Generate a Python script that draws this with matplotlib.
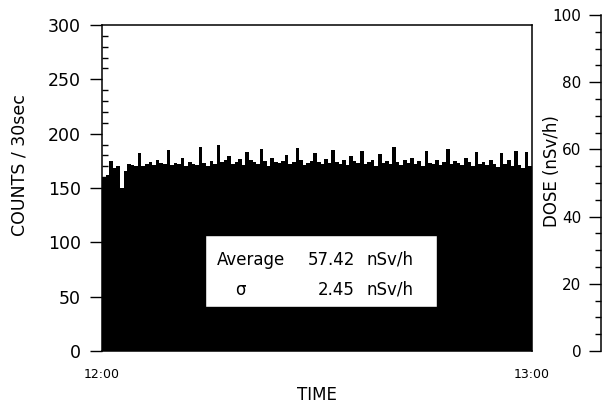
import matplotlib
matplotlib.use("Agg")
import matplotlib.pyplot as plt
import numpy as np
from matplotlib.ticker import MultipleLocator
from matplotlib.patches import Rectangle

plt.rcParams['font.family'] = ['DejaVu Sans']

# counts per 30 s from 12:00 to 13:00 (120 bins)
counts = [160, 162, 175, 168, 170, 150, 166, 172, 171, 170,
          182, 170, 172, 174, 171, 176, 173, 172, 185, 171,
          173, 172, 178, 170, 174, 172, 171, 188, 173, 170,
          175, 172, 190, 174, 176, 179, 172, 174, 177, 171,
          183, 176, 174, 172, 186, 175, 170, 178, 174, 173,
          175, 180, 172, 174, 187, 176, 171, 173, 175, 182,
          174, 172, 177, 173, 185, 174, 172, 176, 171, 179,
          175, 173, 184, 172, 174, 176, 170, 181, 173, 175,
          172, 188, 174, 171, 176, 173, 178, 172, 175, 170,
          184, 173, 172, 176, 171, 174, 186, 172, 175, 173,
          171, 178, 174, 170, 183, 172, 174, 171, 176, 172,
          169, 182, 172, 176, 170, 184, 171, 168, 183, 170]
bin_minutes = 0.5
time_labels = ["12:00", "13:00"]
left_ticks = [0, 50, 100, 150, 200, 250, 300]
dose_ticks = [0, 20, 40, 60, 80, 100]
stat_names = ["Average", "σ"]
stat_values = ["57.42", "2.45"]
stat_unit = "nSv/h"

W, H = 610, 404
fig = plt.figure(figsize=(W / 100, H / 100), dpi=100)

def frac(x0, y0, x1, y1):
    return [x0 / W, 1 - y1 / H, (x1 - x0) / W, (y1 - y0) / H]

ax = fig.add_axes(frac(102, 25, 532, 351))
t = np.arange(len(counts)) * bin_minutes
ax.bar(t, counts, width=bin_minutes, align='edge', color='black', linewidth=0)
ax.set_xlim(0, 60)
ax.set_ylim(0, 300)
ax.set_yticks(left_ticks)
ax.yaxis.set_minor_locator(MultipleLocator(10))
ax.tick_params(axis='y', which='major', direction='out', length=9, width=1, labelsize=12.5, pad=6)
ax.tick_params(axis='y', which='minor', direction='in', length=4, width=1)
ax.set_xticks([0, 60])
ax.set_xticklabels(time_labels)
ax.tick_params(axis='x', which='major', length=0, labelsize=9, pad=12)
for s in ax.spines.values():
    s.set_linewidth(1.1)
ax.set_ylabel("COUNTS / 30sec", fontsize=12.5)
ax.yaxis.set_label_coords(-0.172, 0.57)
ax.set_xlabel("TIME", fontsize=12, labelpad=4)

# statistics box
bx0, bx1 = (205 - 102) / 430, (437 - 102) / 430
by0, by1 = (351 - 307) / 326, (351 - 235) / 326
ax.add_patch(Rectangle((bx0, by0), bx1 - bx0, by1 - by0, transform=ax.transAxes,
                       facecolor='white', edgecolor='black', linewidth=1, zorder=5))
rows_y = [(351 - 260) / 326, (351 - 290) / 326]
for name, val, yy in zip(stat_names, stat_values, rows_y):
    if name == "Average":
        ax.text((217 - 102) / 430, yy, name, transform=ax.transAxes, ha='left', va='center', fontsize=12, zorder=6)
    else:
        ax.text((240 - 102) / 430, yy, name, transform=ax.transAxes, ha='center', va='center', fontsize=12, zorder=6)
    ax.text((355 - 102) / 430, yy, val, transform=ax.transAxes, ha='right', va='center', fontsize=12, zorder=6)
    ax.text((367 - 102) / 430, yy, stat_unit, transform=ax.transAxes, ha='left', va='center', fontsize=12, zorder=6)

# separate dose axis on the right
ax2 = fig.add_axes(frac(601, 15, 602, 351))
ax2.set_xticks([])
for k in ['top', 'right', 'bottom']:
    ax2.spines[k].set_visible(False)
ax2.spines['left'].set_linewidth(1.1)
ax2.patch.set_alpha(0)
ax2.set_ylim(0, 100)
ax2.set_yticks(dose_ticks)
ax2.yaxis.set_minor_locator(MultipleLocator(5))
ax2.tick_params(axis='y', which='major', direction='out', length=9, width=1, labelsize=11, pad=5)
ax2.tick_params(axis='y', which='minor', direction='out', length=4, width=1)
fig.text(552 / W, 1 - 171 / H, "DOSE (nSv/h)", rotation=90, ha='center', va='center', fontsize=12)

fig.savefig("out.png", dpi=100)
